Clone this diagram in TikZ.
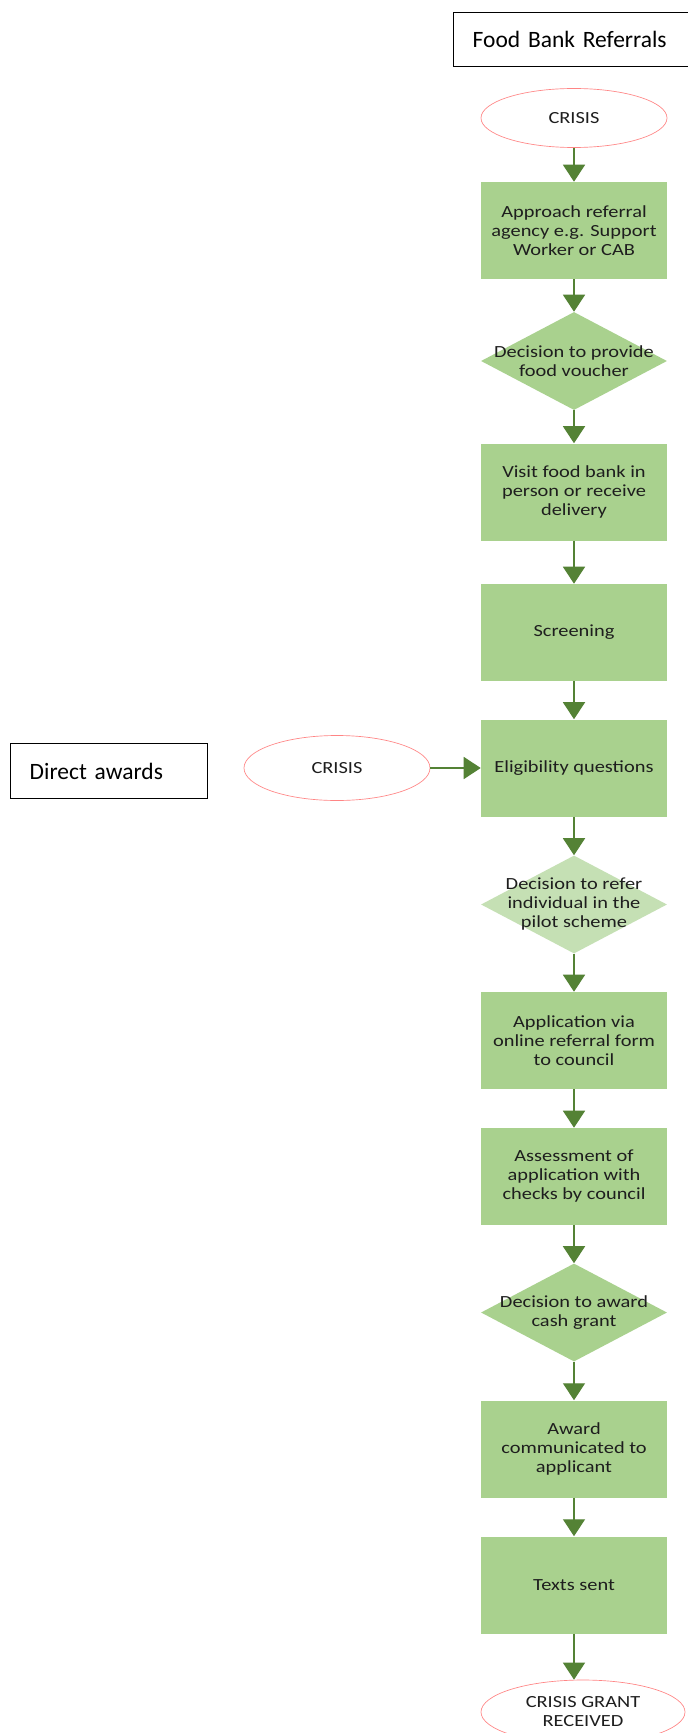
\documentclass[tikz,border=0pt]{standalone}
\usepackage{fontspec}
\setmainfont{Carlito}
\newfontfamily\boxfont{Carlito}[FakeStretch=1.2]
\usetikzlibrary{shapes.geometric,arrows.meta}
\definecolor{boxgreen}{HTML}{A9D18E}
\definecolor{lightgreen}{HTML}{C5E0B4}
\definecolor{arrowgreen}{HTML}{548235}
\definecolor{ovalred}{HTML}{FF8585}
\definecolor{txt}{HTML}{1E1E1E}
\tikzset{
  x=0.75pt, y=-0.75pt,
  stepbox/.style={rectangle, fill=boxgreen, draw=none, minimum width=139.5pt, minimum height=72.75pt,
    inner sep=2pt, align=center, text=txt, font=\boxfont\fontsize{12.75pt}{14.25pt}\selectfont},
  decision/.style={diamond, fill=boxgreen, draw=none, minimum width=139.5pt, minimum height=73.5pt, inner sep=0pt},
  dtext/.style={align=center, text=txt, font=\boxfont\fontsize{12.75pt}{14.25pt}\selectfont},
  oval/.style={ellipse, draw=ovalred, line width=0.5pt, fill=white, inner sep=0pt, align=center,
    text=txt, font=\boxfont\fontsize{12.75pt}{14.25pt}\selectfont},
  titlebox/.style={rectangle, draw=black, line width=1.1pt, inner xsep=14.25pt, inner ysep=0pt,
    align=left, anchor=north west, text=black, font=\fontsize{17.6pt}{20pt}\selectfont},
  flow/.style={draw=arrowgreen, line width=1.1pt, -{Triangle[width=16.5pt,length=12.75pt]}, arrowgreen},
}
\begin{document}
\begin{tikzpicture}
\useasboundingbox (0,0) rectangle (688,1733);
\clip (0,0) rectangle (688,1733);
\fill[white] (0,0) rectangle (688,1733);

% headings
\node[titlebox, text width=156.75pt, minimum height=40.5pt] (fbr) at (453,12) {Food Bank Referrals};
\node[titlebox, text width=119.25pt, minimum height=41.25pt] (da) at (10,743) {Direct awards};

% main column
\node[oval, minimum width=139.5pt, minimum height=44.25pt] (c1) at (574,118) {CRISIS};
\node[stepbox] (s1) at (574,230.5) {Approach referral\\agency e.g. Support\\Worker or CAB};
\node[decision] (d1) at (574,361) {};
\node[dtext] at (d1.center) {Decision to provide\\food voucher};
\node[stepbox] (s2) at (574,492) {Visit food bank in\\person or receive\\delivery};
\node[stepbox] (s3) at (574,632.5) {Screening};
\node[stepbox] (s4) at (574,768) {Eligibility questions};
\node[decision, fill=lightgreen] (d2) at (574,904.5) {};
\node[dtext] at (d2.center) {Decision to refer\\individual in the\\pilot scheme};
\node[stepbox] (s5) at (574,1040.5) {Application via\\online referral form\\to council};
\node[stepbox] (s6) at (574,1176.5) {Assessment of\\application with\\checks by council};
\node[decision] (d3) at (574,1312.5) {};
\node[dtext] at (d3.center) {Decision to award\\cash grant};
\node[stepbox] (s7) at (574,1449) {Award\\communicated to\\applicant};
\node[stepbox] (s8) at (574,1585) {Texts sent};
\node[oval, minimum width=153pt, minimum height=48pt] (c3) at (583,1712) {CRISIS GRANT\\RECEIVED};

% side crisis
\node[oval, minimum width=139.5pt, minimum height=48.75pt] (c2) at (337,768) {CRISIS};

% connectors
\draw[flow] (c1) -- (s1);
\draw[flow] (s1) -- (d1);
\draw[flow] (d1) -- (s2);
\draw[flow] (s2) -- (s3);
\draw[flow] (s3) -- (s4);
\draw[flow] (c2) -- (s4);
\draw[flow] (s4) -- (d2);
\draw[flow] (d2) -- (s5);
\draw[flow] (s5) -- (s6);
\draw[flow] (s6) -- (d3);
\draw[flow] (d3) -- (s7);
\draw[flow] (s7) -- (s8);
\draw[flow] (s8.south) -- (s8.south |- c3.north);
\end{tikzpicture}
\end{document}
